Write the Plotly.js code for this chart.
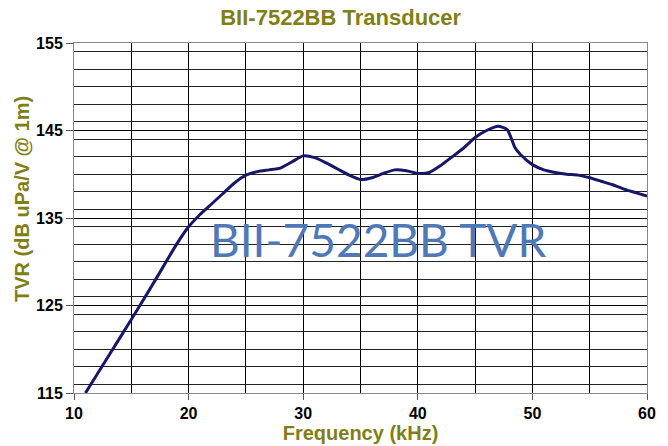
<!DOCTYPE html>
<html>
<head>
<meta charset="utf-8">
<script src="https://cdn.plot.ly/plotly-3.0.1.min.js"></script>
<style>html,body{margin:0;padding:0;background:#fff;}#chart{width:668px;height:446px;}</style>
</head>
<body>
<div id="chart"></div>
<script>
const freqKHz = [11, 13, 15, 17, 19, 20, 21, 22, 23, 24, 25, 26, 27, 28, 29, 30, 31, 32, 33, 34, 35, 36, 37, 38, 39, 40, 41, 42, 43, 44, 45, 46, 47, 47.8, 48.5, 49, 50, 51, 52, 53, 54, 55, 56, 57, 58, 59, 60];
const tvr = [115, 119.2, 123.4, 127.7, 132.1, 134.0, 135.4, 136.6, 137.8, 139.0, 139.9, 140.3, 140.5, 140.7, 141.4, 142.1, 141.9, 141.3, 140.6, 139.9, 139.4, 139.6, 140.1, 140.5, 140.4, 140.1, 140.2, 141.0, 142.0, 143.0, 144.2, 145.0, 145.5, 145.1, 143.0, 142.2, 141.1, 140.5, 140.2, 140.0, 139.9, 139.6, 139.2, 138.8, 138.3, 137.9, 137.5];
const chartTitle = "BII-7522BB Transducer";
const xTitle = "Frequency (kHz)";
const yTitle = "TVR (dB uPa/V @ 1m)";
const watermark = "BII-7522BB TVR";

const olive = "#7f7f16";
const fam = "Liberation Sans, Arial, sans-serif";
const trace = {
  x: freqKHz, y: tvr, type: "scatter", mode: "lines",
  line: {color: "#16166b", width: 3, shape: "spline", smoothing: 0.6},
  hoverinfo: "skip"
};
const layout = {
  width: 668, height: 446,
  margin: {l: 74, r: 21, t: 43, b: 53},
  paper_bgcolor: "#fff", plot_bgcolor: "#fff",
  showlegend: false,
  title: {text: "<b>" + chartTitle + "</b>", x: 0.51, xanchor: "center", y: 0.962, yanchor: "middle",
          font: {family: fam, size: 22, color: olive}},
  xaxis: {
    range: [10, 60], dtick: 10, tick0: 10, showgrid: true, gridcolor: "#000", gridwidth: 1,
    zeroline: false, showline: true, linecolor: "#888", linewidth: 1, mirror: true,
    ticks: "outside", ticklen: 6, tickcolor: "#555",
    tickfont: {family: fam, size: 16, color: "#000", weight: "bold"},
    minor: {dtick: 5, showgrid: true, gridcolor: "#000", gridwidth: 1},
    title: {text: "<b>" + xTitle + "</b>", standoff: 4, font: {family: fam, size: 20, color: olive}}
  },
  yaxis: {
    range: [115, 155], dtick: 10, tick0: 115, showgrid: true, gridcolor: "#000", gridwidth: 1,
    zeroline: false, showline: true, linecolor: "#888", linewidth: 1, mirror: true,
    ticks: "outside", ticklen: 7, tickcolor: "#555",
    tickfont: {family: fam, size: 16, color: "#000", weight: "bold"},
    minor: {dtick: 2, showgrid: true, gridcolor: "#222", gridwidth: 1}
  },
  annotations: [{
    text: watermark, xref: "paper", yref: "paper", x: 0.53, y: 0.44, xanchor: "center", yanchor: "middle",
    showarrow: false, font: {family: "Lato, Open Sans, sans-serif", size: 46, color: "#4f78b8"}
  }, {
    text: "<b>" + yTitle + "</b>", xref: "paper", yref: "paper", x: -0.091, y: 0.554,
    xanchor: "center", yanchor: "middle", textangle: -90, showarrow: false,
    font: {family: fam, size: 20, color: olive}
  }]
};
Plotly.newPlot("chart", [trace], layout, {staticPlot: true, displayModeBar: false});
</script>
</body>
</html>
